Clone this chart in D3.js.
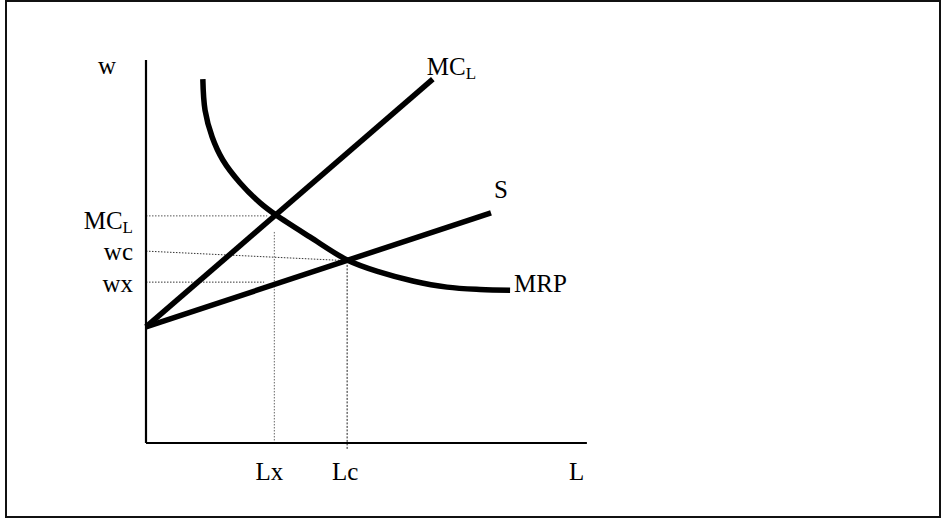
<!DOCTYPE html>
<html>
<head>
<meta charset="utf-8">
<script src="https://cdn.jsdelivr.net/npm/d3@7"></script>
<style>
    body { margin: 0; background: #fff; }
    text { font-family: "Liberation Serif", "Times New Roman", serif; fill: #000; }
</style>
</head>
<body>
<div id="chart"></div>
<script>
// labour market (monopsony) diagram, values in 0..100 units on both axes
const mrpCurve = [
    [12.8, 95.0], [13.3, 86.9], [14.9, 79.9], [17.3, 73.9], [21.2, 67.9],
    [25.7, 62.7], [29.3, 59.5], [36.9, 53.8], [45.3, 47.8], [52.7, 44.6],
    [60.1, 42.3], [67.8, 40.7], [75.2, 40.1], [82.0, 39.9]
];
const mclLine = [[0, 30.3], [64.6, 95.0]];
const supplyLine = [[0, 30.3], [77.7, 60.1]];

// guide lines: [x1, y1, x2, y2]
const guides = [
    { id: 'mcl', pts: [0, 59.3, 27.3, 59.3], dash: '1.5,1.5', color: '#555' },
    { id: 'wc', pts: [0, 50.1, 45.3, 47.6], dash: '1.5,1.5', color: '#333' },
    { id: 'wx', pts: [0, 42.0, 26.6, 42.0], dash: '1.5,1.5', color: '#333' },
    { id: 'lx', pts: [28.9, 55.1, 28.9, 0], dash: '1.5,1.5', color: '#666' },
    { id: 'lc', pts: [45.3, 46.5, 45.3, -1.6], dash: '2,1.5', color: '#222' }
];

const yLabels = [
    { text: 'MC', sub: 'L', w: 59.3, dy: 13 },
    { text: 'wc', sub: '', w: 50.1, dy: 9 },
    { text: 'wx', sub: '', w: 42.0, dy: 10 }
];
const xLabels = [
    { text: 'Lx', q: 28.9, dx: -5 },
    { text: 'Lc', q: 45.3, dx: -2 },
    { text: 'L', q: 97.0, dx: 0 }
];

const width = 941, height = 522;
const svg = d3.select('#chart').append('svg')
    .attr('width', width)
    .attr('height', height);

svg.append('rect')
    .attr('x', 6).attr('y', 1)
    .attr('width', 934).attr('height', 516)
    .attr('fill', 'none')
    .attr('stroke', '#111')
    .attr('stroke-width', 2);

const x = d3.scaleLinear().domain([0, 100]).range([146, 590]);
const y = d3.scaleLinear().domain([0, 100]).range([443, 60]);

/* guides first so the thick curves sit on top */
svg.append('g').selectAll('line')
    .data(guides)
    .join('line')
    .attr('x1', (d) => x(d.pts[0]))
    .attr('y1', (d) => y(d.pts[1]))
    .attr('x2', (d) => x(d.pts[2]))
    .attr('y2', (d) => y(d.pts[3]))
    .attr('stroke', (d) => d.color)
    .attr('stroke-width', 1)
    .attr('stroke-dasharray', (d) => d.dash);

/* axes */
const axes = svg.append('g')
    .attr('stroke', '#000')
    .attr('stroke-width', 2.2);
axes.append('line')
    .attr('x1', x(0)).attr('y1', y(100))
    .attr('x2', x(0)).attr('y2', y(0));
axes.append('line')
    .attr('x1', x(0)).attr('y1', y(0))
    .attr('x2', x(99.3)).attr('y2', y(0));

const line = d3.line().x((d) => x(d[0])).y((d) => y(d[1]));
const curves = svg.append('g')
    .attr('fill', 'none')
    .attr('stroke', '#000')
    .attr('stroke-width', 5.5);
curves.append('path').attr('d', line(mclLine));
curves.append('path').attr('d', line(supplyLine));
curves.append('path').attr('d', line.curve(d3.curveCatmullRom.alpha(0.5))(mrpCurve));

/* labels */
const fs = 25;
function label(g, px, py, text, sub, anchor) {
    const t = g.append('text')
        .attr('x', px).attr('y', py)
        .attr('font-size', fs)
        .attr('text-anchor', anchor || 'start');
    t.append('tspan').text(text);
    if (sub) {
        t.append('tspan').attr('font-size', 17).attr('dy', 4).text(sub);
    }
    return t;
}

const lab = svg.append('g');
label(lab, 98, 74, 'w');
yLabels.forEach((d) => label(lab, 133, y(d.w) + d.dy, d.text, d.sub, 'end'));
xLabels.forEach((d) => label(lab, x(d.q) + d.dx, 480, d.text, '', 'middle'));
label(lab, x(mclLine[1][0]) - 6, 75, 'MC', 'L');
label(lab, x(supplyLine[1][0]) + 3, 198, 'S');
label(lab, x(mrpCurve[mrpCurve.length - 1][0]) + 4, 292, 'MRP');
</script>
</body>
</html>
